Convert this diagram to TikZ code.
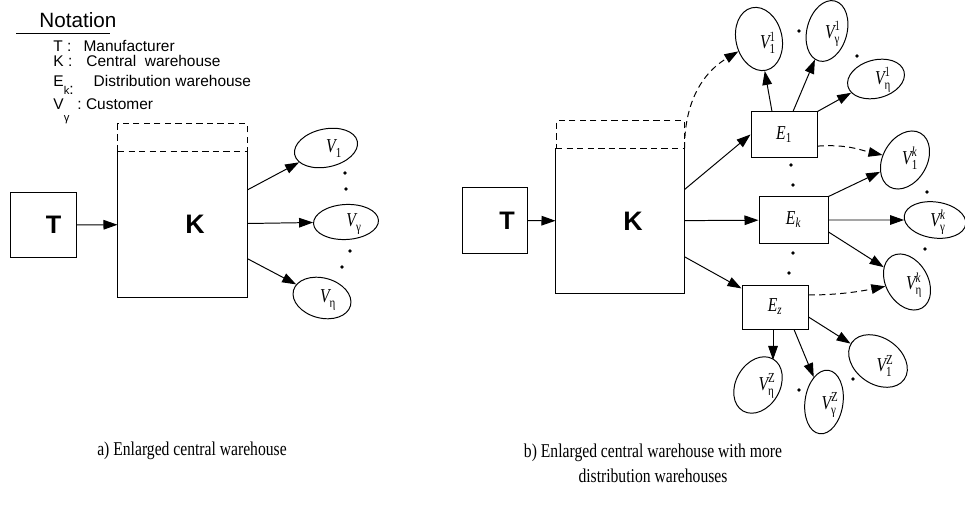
\documentclass[tikz,border=0pt]{standalone}
\usepackage{fontspec}
\setmainfont{Liberation Serif}
\setsansfont{Liberation Sans}
\usepackage{amsmath}
\usepackage{graphicx}
\usetikzlibrary{arrows.meta,shapes.geometric,positioning}
\newcommand{\nrw}[1]{\scalebox{0.8}[1]{#1}}
\newcommand{\cv}[2]{\nrw{$\textit{V}_{\text{#1}}^{#2}$}}
\begin{document}
\begin{tikzpicture}[x=0.025cm,y=-0.025cm,line width=0.7pt,>={Triangle[length=3.5mm,width=2.4mm]},
	sq/.style={draw,inner sep=0pt,minimum width=1.625cm,minimum height=1.6cm,font=\sffamily\bfseries\fontsize{18}{18}\selectfont},
	wh/.style={inner sep=0pt,minimum width=3.225cm,minimum height=3.625cm,font=\sffamily\bfseries\fontsize{19}{19}\selectfont},
	ext/.style={draw,dash pattern=on 4.5pt off 3pt,inner sep=0pt,minimum width=3.225cm,minimum height=0.675cm},
	dc/.style={draw,inner sep=0pt,minimum width=1.65cm,minimum height=1.125cm,font=\fontsize{14}{14}\selectfont},
	cu/.style={draw,ellipse,inner sep=0pt},
	lb/.style={inner sep=0pt,font=\fontsize{14}{14}\selectfont},
	nt/.style={inner sep=0pt,anchor=base west,font=\sffamily\fontsize{11}{11}\selectfont},
	captxt/.style={align=center,font=\fontsize{13.9}{17.7}\selectfont},
	dsh/.style={dash pattern=on 4.5pt off 3pt}]
\useasboundingbox (0,0) rectangle (965,510);

\node[inner sep=0pt,anchor=base west,font=\sffamily\fontsize{14.7}{14.7}\selectfont] (nt) at (39,28) {Notation};
\draw (16,33) -- (110,33);
\node[nt] (n1) at (53,52) {T :\hspace{0.3cm}Manufacturer};
\node[nt] (n2) at (53,67) {K :\hspace{0.35cm}Central\ \ warehouse};
\node[nt] (n3) at (53,87) {E\raisebox{-0.18cm}{\footnotesize k}\raisebox{-0.2cm}{:}\hspace{0.5cm}Distribution warehouse};
\node[nt] (n4) at (53,110) {V\raisebox{-0.28cm}{\footnotesize γ}\hspace{0.2cm}:\ Customer};

\node[sq] (T) at (43.5,225) {\hspace{0.5cm}T};
\node[wh] (K) at (182.5,224.5) {\hspace{0.625cm}K};
\node[ext,above=0pt of K] (Kt) {};
\draw (K.north west) |- (K.south east) -- (K.north east);
\node[cu,minimum width=1.6cm,minimum height=0.95cm,rotate=12] (v1) at (326,148) {};
\node[cu,minimum width=1.625cm,minimum height=0.875cm,rotate=3] (vg) at (346,222) {};
\node[cu,minimum width=1.475cm,minimum height=1cm,rotate=-15] (vh) at (322,298) {};
\node[lb] (l1) at (334,149) {\cv{1}{}};
\node[lb] (lg) at (354,224) {\cv{γ}{}};
\node[lb] (lh) at (328,300) {\cv{η}{}};
\draw[->] (T) -- (K);
\draw[->] (K) -- (v1);
\draw[->] (K) -- (vg);
\draw[->] (K) -- (vh);
\foreach \x/\y in {345/173,346/189,350/251,342/267}
	\fill (\x,\y) circle (0.045cm);

\node[sq,minimum height=1.625cm] (T2) at (494.5,220.5) {\hspace{0.625cm}T};
\node[wh,minimum width=3.2cm,minimum height=3.6cm] (K2) at (620,221) {\hspace{0.65cm}K};
\node[ext,minimum width=3.2cm,above=0pt of K2] (K2t) {};
\draw (K2.north west) |- (K2.south east) -- (K2.north east);
\node[dc] (E1) at (784,134.5) {\nrw{$\textit{E}_{\text{1}}$}};
\node[dc,minimum width=1.725cm,minimum height=1.15cm] (Ek) at (793.5,220) {\nrw{$\textit{E}_{\textit{k}}$}};
\node[dc,minimum height=1.1cm] (Ez) at (775,307) {\nrw{$\textit{E}_{\textit{z}}$}};

\node[cu,minimum width=1.15cm,minimum height=1.6cm,rotate=13] (v11) at (759,39) {};
\node[cu,minimum width=1cm,minimum height=1.55cm,rotate=-15] (vg1) at (827,31) {};
\node[cu,minimum width=1.45cm,minimum height=0.95cm,rotate=15] (vh1) at (876,79) {};
\node[cu,minimum width=1.1cm,minimum height=1.55cm,rotate=-30] (v1k) at (905,160) {};
\node[cu,minimum width=1.55cm,minimum height=0.9cm,rotate=-8] (vgk) at (935,220) {};
\node[cu,minimum width=1.05cm,minimum height=1.5cm,rotate=30] (vhk) at (907,282) {};
\node[cu,minimum width=1.6cm,minimum height=1.15cm,rotate=-35] (v1z) at (878,361) {};
\node[cu,minimum width=0.95cm,minimum height=1.6cm,rotate=-8] (vgz) at (824,402) {};
\node[cu,minimum width=1.1cm,minimum height=1.5cm,rotate=-30] (vhz) at (758,385) {};
\node[lb] (m11) at (768,43) {\cv{1}{1}};
\node[lb] (mg1) at (833,34) {\cv{γ}{1}};
\node[lb] (mh1) at (883,80) {\cv{η}{1}};
\node[lb] (m1k) at (910,158) {\cv{1}{\textit{k}}};
\node[lb] (mgk) at (938,222) {\cv{γ}{\textit{k}}};
\node[lb] (mhk) at (914,285) {\cv{η}{\textit{k}}};
\node[lb] (m1z) at (885,366) {\cv{1}{\text{Z}}};
\node[lb] (mgz) at (830,405) {\cv{γ}{\text{Z}}};
\node[lb] (mhz) at (767,386) {\cv{η}{\text{Z}}};
\coordinate (hz) at (773,360);

\draw[->] (T2) -- (K2);
\draw[->] (K2.26) -- (E1.west);
\draw[->] (K2) -- (Ek);
\draw[->] (K2) -- (Ez);
\draw[->,dsh] (K2.north east) .. controls +(0,-60) and +(-45,27) .. (v11);
\draw[->] ([xshift=-0.3cm]E1.north) -- (v11);
\draw[->] ([xshift=0.225cm]E1.north) -- (vg1);
\draw[->] (E1.north east) -- (vh1);
\draw[->,dsh] ([yshift=-0.29cm]E1.east) .. controls +(30,-2) and +(-45,-10) .. (v1k);
\draw[->] (Ek.north east) -- (v1k);
\draw[->] (Ek.east) -- (vgk);
\draw[->] ([yshift=-0.3cm]Ek.east) -- (vhk);
\draw[->,dsh] ([yshift=0.3cm]Ez.east) .. controls +(35,0) and +(-40,8) .. (vhk);
\draw[->] (Ez.south -| hz) -- (hz);
\draw[->] ([xshift=0.475cm]Ez.south) -- (vgz);
\draw[->] ([yshift=-0.25cm]Ez.east) -- (v1z);
\foreach \x/\y in {791/165,793/185,793/253,789/273,799/31,857/56,927/192,925/249,799/390,853/379}
	\fill (\x,\y) circle (0.045cm);

\node[captxt] (ca) at (192,451) {\nrw{a) Enlarged central warehouse}};
\node[captxt] (cb) at (653,463) {\nrw{b) Enlarged central warehouse with more}\\\nrw{distribution warehouses}};
\end{tikzpicture}
\end{document}
